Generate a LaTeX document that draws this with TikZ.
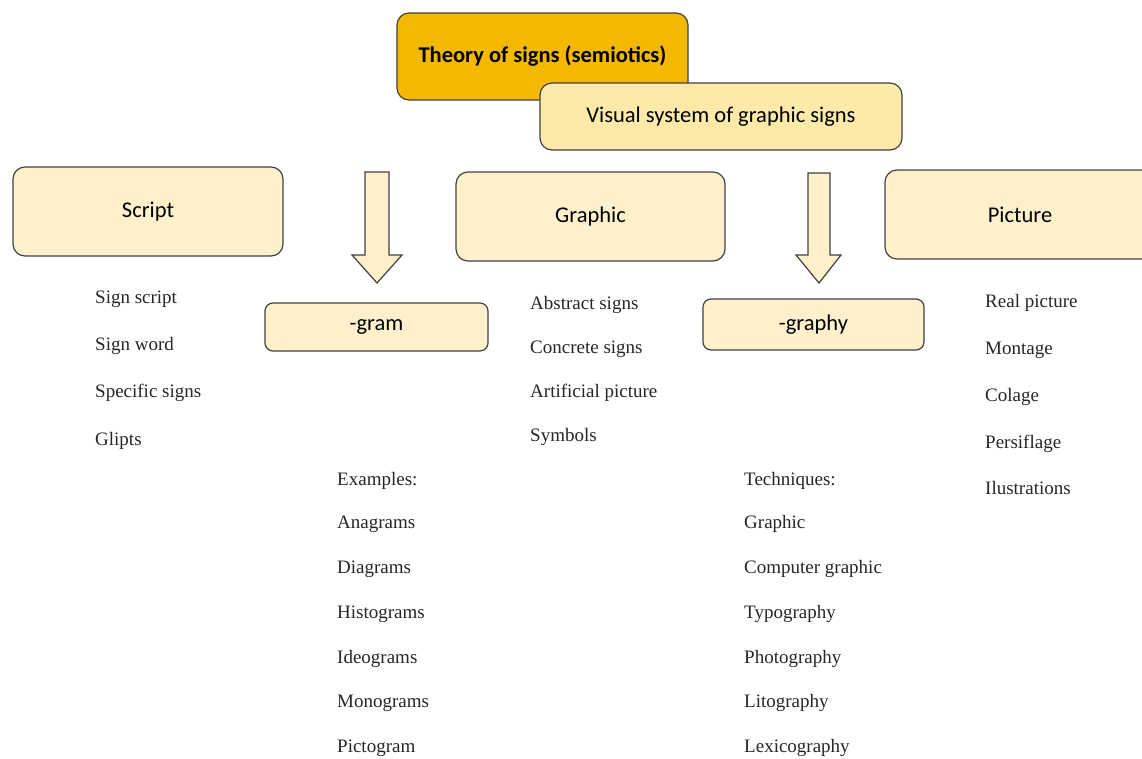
\documentclass[tikz,border=0pt]{standalone}
\usepackage{fontspec}
\setmainfont{Liberation Serif}
\newfontfamily\boxfont{Carlito}
\begin{document}
\begin{tikzpicture}[x=1pt,y=-1pt,
  bx/.style={draw=black!75, line width=1.2pt, rounded corners=12pt, fill=boxlight, inner sep=0pt, font=\boxfont\fontsize{22.5}{26}\selectfont},
  sbx/.style={bx, rounded corners=8pt},
  item/.style={anchor=west, inner sep=0pt, text height=12pt, text depth=4pt, font=\fontsize{19}{22}\selectfont, text=black!85},
  blockarrow/.style={draw=black!75, line width=1.2pt, fill=boxlight, line join=miter}
]
\definecolor{boxlight}{HTML}{FEF0CA}
\definecolor{boxmid}{HTML}{FDE9A8}
\definecolor{boxorange}{HTML}{F5B800}
\path[use as bounding box] (0,0) rectangle (1142,758);
\begin{scope}
\clip (0,0) rectangle (1142,758);
\node[bx, fill=boxorange, minimum width=291pt, minimum height=87pt, font=\boxfont\bfseries\fontsize{22.5}{26}\selectfont] (theory) at (542.5,56.5) {Theory of signs (semiotics)};
\node[bx, fill=boxmid, minimum width=362pt, minimum height=67pt] (visual) at (721,116.5) {Visual system of graphic signs};
\node[bx, minimum width=270pt, minimum height=89pt] (script) at (148,211.5) {Script};
\node[bx, minimum width=269pt, minimum height=89pt] (graphic) at (590.5,216.5) {Graphic};
\node[bx, minimum width=270pt, minimum height=89pt] (picture) at (1020,214.5) {Picture};
\node[sbx, minimum width=223pt, minimum height=48pt] (gram) at (376.5,327) {-gram};
\node[sbx, minimum width=221pt, minimum height=51pt] (graphy) at (813.5,324.5) {-graphy};
\end{scope}
% block arrows
\draw[blockarrow] (365,172) -- (389,172) -- (389,255) -- (402,255) -- (377,283) -- (352,255) -- (365,255) -- cycle;
\draw[blockarrow] (808,173) -- (830,173) -- (830,255) -- (841,255) -- (819,283) -- (796,255) -- (808,255) -- cycle;
% Script list
\node[item] (s1) at (95,299) {Sign script};
\node[item] (s2) at (95,346) {Sign word};
\node[item] (s3) at (95,393) {Specific signs};
\node[item] (s4) at (95,441) {Glipts};
% Graphic list
\node[item] (g1) at (530,305) {Abstract signs};
\node[item] (g2) at (530,349) {Concrete signs};
\node[item] (g3) at (530,393) {Artificial picture};
\node[item] (g4) at (530,437) {Symbols};
% Picture list
\node[item] (p1) at (985,303) {Real picture};
\node[item] (p2) at (985,350) {Montage};
\node[item] (p3) at (985,397) {Colage};
\node[item] (p4) at (985,444) {Persiflage};
\node[item] (p5) at (985,490) {Ilustrations};
% Examples
\node[item] (e0) at (337,481) {Examples:};
\node[item] (e1) at (337,524) {Anagrams};
\node[item] (e2) at (337,569) {Diagrams};
\node[item] (e3) at (337,614) {Histograms};
\node[item] (e4) at (337,659) {Ideograms};
\node[item] (e5) at (337,703) {Monograms};
\node[item] (e6) at (337,748) {Pictogram};
% Techniques
\node[item] (t0) at (744,481) {Techniques:};
\node[item] (t1) at (744,524) {Graphic};
\node[item] (t2) at (744,569) {Computer graphic};
\node[item] (t3) at (744,614) {Typography};
\node[item] (t4) at (744,659) {Photography};
\node[item] (t5) at (744,703) {Litography};
\node[item] (t6) at (744,748) {Lexicography};
\end{tikzpicture}
\end{document}
